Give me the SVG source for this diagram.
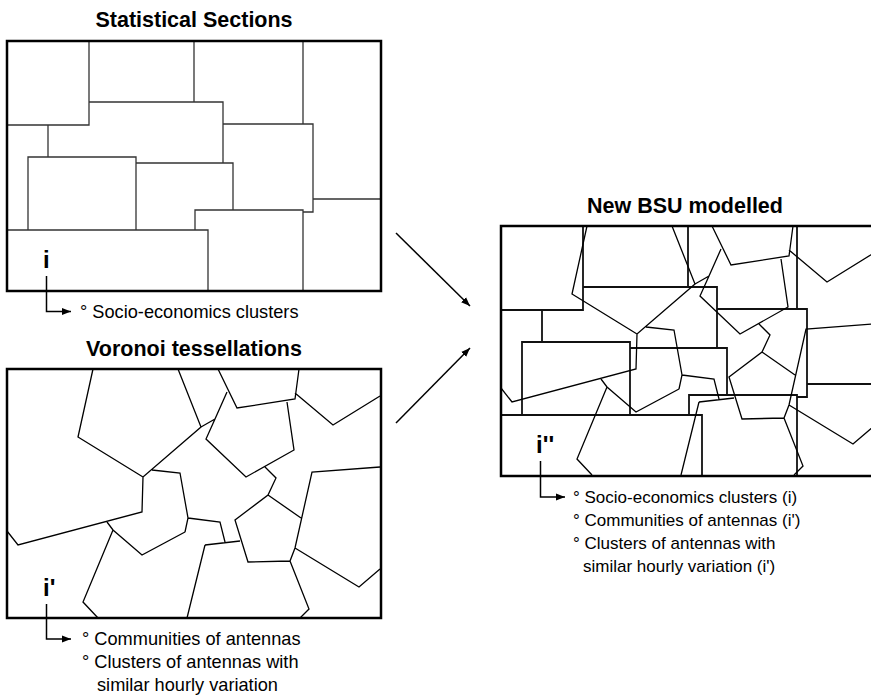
<svg xmlns="http://www.w3.org/2000/svg" width="871" height="699" viewBox="0 0 871 699">
<style>
.frame{fill:none;stroke:#000;stroke-width:2.5}
.st{fill:none;stroke:#333;stroke-width:1.3}
.st2{fill:none;stroke:#111;stroke-width:1.8}
.vo{fill:none;stroke:#000;stroke-width:1.3}
.title{font-family:"Liberation Sans",Arial,sans-serif;font-weight:bold;font-size:21.5px;text-anchor:middle;fill:#000}
.lbl{font-family:"Liberation Sans",Arial,sans-serif;font-weight:bold;font-size:24px;fill:#000}
.txt{font-family:"Liberation Sans",Arial,sans-serif;font-size:18.2px;fill:#000}
.txt2{font-family:"Liberation Sans",Arial,sans-serif;font-size:17px;fill:#000}
.conn{fill:none;stroke:#000;stroke-width:1.5}
</style>
<defs>
<marker id="ah" markerUnits="userSpaceOnUse" markerWidth="10" markerHeight="8" refX="9" refY="4" orient="auto"><path d="M0,0.5 L9,4 L0,7.5 z" fill="#000"/></marker>
<g id="stat-shapes">
<path d="M89,41 V125 H7 M194,41 V102 M89,102 H223 V163 M303,41 V124 M223,124 H313 V212 H303 M313,199 H381 M136,163 H233 V210 M195,230 V210 H303 V291 M7,230 H208 V291 M48,125 V157 M28,230 V157 H136 V230"/>
</g>
<g id="vor-shapes">
<path d="M93,369 L78,437 L143,477 L201,427 L178,369 M218,369 L237,408 L295,399 L299,369 M227,392 L215,419 L206,439 L246,477 L294,450 L287,402 M215,419 L201,427 M295,393 L333,425 L380,396 M143,477 L142,512 L18,545 L7,531 M152,470 L180,473 L188,518 L185,532 M265,467 L276,478 L268,495 L235,520 L248,562 L290,561 L295,548 L312,472 L380,467 M268,495 L301,518 M295,548 L359,587 L380,569 M290,561 L309,609 L300,618 M107,522 L113,530 L142,555 L185,532 M113,530 L83,602 L98,618 M188,518 L220,522 L225,542 M205,545 L240,541 M205,545 L187,618"/>
</g>
</defs>

<g id="statistical-sections">
<text class="title" x="194" y="27">Statistical Sections</text>
<use href="#stat-shapes" class="st"/>
<rect class="frame" x="7" y="41" width="374" height="250"/>
<text class="lbl" x="43" y="268">i</text>
<text class="txt" x="80" y="318">° Socio-economics clusters</text>
</g>

<g id="voronoi-tessellations">
<text class="title" x="194" y="356">Voronoi tessellations</text>
<use href="#vor-shapes" class="vo"/>
<rect class="frame" x="7" y="369" width="374" height="249"/>
<text class="lbl" x="43" y="596">i'</text>
<text class="txt" x="82" y="645">° Communities of antennas</text>
<text class="txt" x="82" y="668">° Clusters of antennas with</text>
<text class="txt" x="97" y="691">similar hourly variation</text>
</g>

<g id="new-bsu-modelled">
<text class="title" x="685" y="213">New BSU modelled</text>
<use href="#stat-shapes" class="st2" transform="translate(494,185)"/>
<use href="#vor-shapes" class="vo" transform="translate(494,-143)"/>
<rect class="frame" x="501" y="226" width="374" height="250"/>
<text class="lbl" x="536" y="453">i''</text>
<text class="txt2" x="573" y="503">° Socio-economics clusters (i)</text>
<text class="txt2" x="573" y="526">° Communities of antennas (i')</text>
<text class="txt2" x="573" y="549">° Clusters of antennas with</text>
<text class="txt2" x="583" y="572">similar hourly variation (i')</text>
</g>

<g id="connectors">
<path class="conn" d="M396,233 L470,306" marker-end="url(#ah)"/>
<path class="conn" d="M396,423 L470,348" marker-end="url(#ah)"/>
<path class="conn" d="M46.5,276 V311.5 H71" marker-end="url(#ah)"/>
<path class="conn" d="M46.5,604 V639 H71" marker-end="url(#ah)"/>
<path class="conn" d="M540.5,461 V497 H565" marker-end="url(#ah)"/>
</g>
</svg>
